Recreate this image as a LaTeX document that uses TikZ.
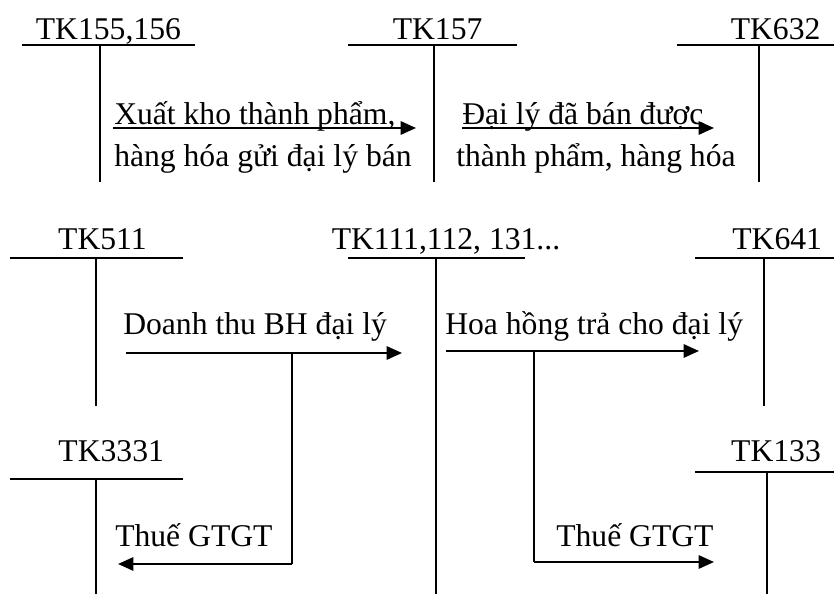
\documentclass[tikz,border=0pt]{standalone}
\usepackage{fontspec}
\setmainfont{Liberation Serif}
\usetikzlibrary{arrows.meta}
\tikzstyle{acct} = [font=\fontsize{22.5}{27}\selectfont, inner sep=0pt, anchor=base]
\tikzstyle{note} = [font=\fontsize{22.5}{27}\selectfont, inner sep=0pt, anchor=base west]
\tikzstyle{tline} = [line width=0.8pt]
\tikzstyle{arrow} = [line width=1.6pt, -{Triangle[length=11pt,width=9.5pt]}]

\begin{document}
\begin{tikzpicture}
\useasboundingbox (0,0) rectangle (20.85,14.85);
% accounts, top row
  \node (tk155) [acct] at (2.71,13.85) {TK155,156};
  \node (tk157) [acct] at (10.94,13.85) {TK157};
  \node (tk632) [acct] at (19.39,13.85) {TK632};
\draw[tline] (0.55,13.725) -- (4.875,13.725) (2.5,13.725) -- (2.5,10.3);
\draw[tline] (8.7,13.725) -- (12.925,13.725) (10.85,13.725) -- (10.85,10.3);
\draw[tline] (16.925,13.725) -- (20.85,13.725) (18.975,13.725) -- (18.975,10.3);
% accounts, middle row
  \node (tk511) [acct] at (2.56,8.6) {TK511};
  \node (tk111) [acct] at (11.15,8.6) {TK111,112, 131...};
  \node (tk641) [acct] at (19.43,8.6) {TK641};
\draw[tline] (0.25,8.4) -- (4.575,8.4) (2.4,8.4) -- (2.4,4.7);
\draw[tline] (8.7,8.4) -- (13.125,8.4) (10.9,8.4) -- (10.9,0);
\draw[tline] (17.375,8.4) -- (20.85,8.4) (19.1,8.4) -- (19.1,4.7);
% accounts, bottom row
  \node (tk3331) [acct] at (2.78,3.3) {TK3331};
  \node (tk133) [acct] at (19.4,3.3) {TK133};
\draw[tline] (0.25,2.875) -- (4.575,2.875) (2.4,2.875) -- (2.4,0);
\draw[tline] (17.375,3.05) -- (20.85,3.05) (19.175,3.05) -- (19.175,0);

% ends of the arrows
\coordinate (xk1) at (2.825,11.65);
\coordinate (xk2) at (10.4,11.65);
\coordinate (dl1) at (11.55,11.65);
\coordinate (dl2) at (17.85,11.65);
\coordinate (dt1) at (3.15,6.025);
\coordinate (dt2) at (10.05,6.025);
\coordinate (hh1) at (11.15,6.075);
\coordinate (hh2) at (17.475,6.075);
\coordinate (dtv) at (7.3,6.025);
\coordinate (dtb) at (7.3,0.75);
\coordinate (vat1) at (2.95,0.75);
\coordinate (hhv) at (13.35,6.075);
\coordinate (hhb) at (13.35,0.8);
\coordinate (vat2) at (17.85,0.8);

% texts
  \node (xk) [note] at (2.85,11.725) {Xuất kho thành phẩm,};
  \node (xkb) [note] at (2.85,10.675) {hàng hóa gửi đại lý bán};
  \node (dl) [note] at (11.55,11.725) {Đại lý đã bán được};
  \node (dlb) [note] at (11.4,10.675) {thành phẩm, hàng hóa};
  \node (dt) [note] at (3.075,6.475) {Doanh thu BH đại lý};
  \node (hh) [note] at (11.125,6.475) {Hoa hồng trả cho đại lý};
  \node (gtL) [note] at (2.875,1.175) {Thuế GTGT};
  \node (gtR) [note] at (13.9,1.175) {Thuế GTGT};

  \draw[arrow] (xk1) -- (xk2);
  \draw[arrow] (dl1) -- (dl2);
  \draw[arrow] (dt1) -- (dt2);
  \draw[arrow] (hh1) -- (hh2);
  \draw[tline] (dtv) -- (dtb);
  \draw[arrow] (dtb) -- (vat1);
  \draw[tline] (hhv) -- (hhb);
  \draw[arrow] (hhb) -- (vat2);
\end{tikzpicture}
\end{document}
